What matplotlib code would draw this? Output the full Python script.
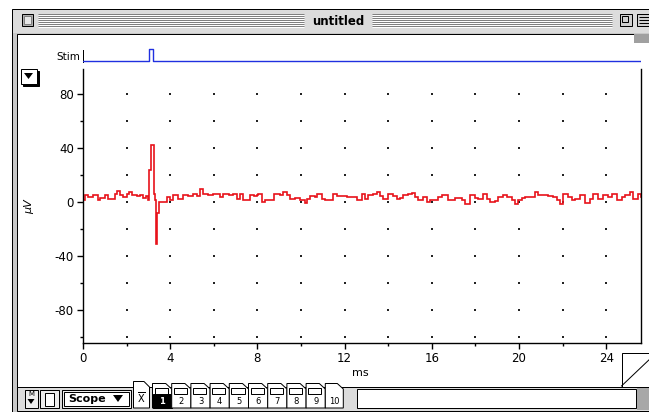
import matplotlib
matplotlib.use("Agg")
import matplotlib.pyplot as plt
from matplotlib.patches import Rectangle, Polygon
import numpy as np

trace_t = [0.00, 0.10, 0.25, 0.45, 0.68, 0.78, 1.00, 1.15, 1.45, 1.54, 1.70, 1.85,
           2.00, 2.12, 2.23, 2.46, 2.61, 2.76, 2.87, 3.00, 3.04, 3.10, 3.13, 3.21,
           3.25, 3.30, 3.33, 3.38, 3.40, 3.48, 3.68, 3.84, 4.00, 4.15, 4.37, 4.60,
           4.83, 5.06, 5.25, 5.37, 5.52, 5.75, 5.98, 6.29, 6.44, 6.70, 6.90, 7.05,
           7.20, 7.36, 7.51, 7.66, 7.85, 7.97, 8.05, 8.20, 8.35, 8.58, 8.74, 8.89,
           9.05, 9.19, 9.35, 9.50, 9.73, 9.96, 10.19, 10.26, 10.42, 10.65, 10.72,
           10.95, 11.10, 11.33, 11.49, 11.64, 11.95, 12.10, 12.40, 12.56, 12.79,
           12.94, 13.09, 13.32, 13.48, 13.63, 13.78, 14.01, 14.24, 14.39, 14.55,
           14.70, 14.93, 15.08, 15.23, 15.39, 15.62, 15.77, 15.92, 16.00, 16.30,
           16.45, 16.76, 17.07, 17.37, 17.52, 17.75, 17.98, 18.14, 18.37, 18.52,
           18.67, 18.90, 19.05, 19.28, 19.44, 19.67, 19.82, 19.97, 20.12, 20.28,
           20.58, 20.74, 20.89, 21.12, 21.35, 21.58, 21.73, 21.88, 22.04, 22.26,
           22.42, 22.57, 22.80, 23.03, 23.26, 23.41, 23.64, 23.87, 24.10, 24.25,
           24.48, 24.71, 24.86, 25.09, 25.25, 25.48, 25.60]
trace_v = [1.8, 5.0, 3.7, 5.0, 1.2, 3.2, 5.0, 2.5, 5.7, 8.0, 5.0, 3.7,
           5.7, 7.4, 5.0, 4.2, 5.0, 3.2, 4.2, 1.2, 23.5, 23.5, 42.0, 42.0,
           6.0, 1.2, -31.0, -31.0, -8.5, 0.0, 0.0, 3.7, 1.8, 5.0, 2.5, 5.0,
           4.2, 5.7, 4.2, 9.9, 6.2, 5.0, 5.7, 3.7, 5.7, 5.0, 5.7, 2.5,
           5.7, 1.8, 1.8, 5.0, 4.2, 5.0, 6.2, 0.0, 1.2, 1.2, 6.2, 5.7,
           5.0, 7.4, 5.0, 2.5, 3.2, 1.2, -0.7, 2.5, 4.2, 3.7, 6.2,
           2.5, 1.8, 1.2, 5.7, 4.2, 4.2, 3.7, 3.7, 1.8, 5.7,
           2.5, 5.0, 6.2, 7.4, 4.2, 2.5, 5.7, 4.2, 2.5, 3.2,
           5.0, 6.2, 6.6, 3.7, 1.8, 3.7, 0.0, 1.8, 1.2, 3.7,
           5.0, 1.8, 3.2, 1.2, -1.2, 5.0, 3.2, 2.5, 6.2, 2.5,
           0.0, 0.7, 3.7, 5.0, 3.7, 1.8, -1.7, 1.2, 3.2, 3.7,
           3.7, 7.4, 5.0, 5.0, 4.2, 3.7, 1.2, -1.2, 6.2, 3.7,
           1.2, 2.5, 5.0, -0.7, 2.5, 5.7, 2.5, 5.0, 3.7, 6.2,
           1.8, 3.7, 5.0, 7.4, 2.5, 6.2, 4.0]

# stimulus channel (ms, on/off)
stim_t = [0.0, 3.04, 3.04, 3.21, 3.21, 25.6]
stim_v = [0, 0, 1, 1, 0, 0]

x_ticks = [0, 4, 8, 12, 16, 20, 24]
y_ticks = [-80, -40, 0, 40, 80]
tab_labels = ['1', '2', '3', '4', '5', '6', '7', '8', '9', '10']

W, H = 649, 412
fig = plt.figure(figsize=(W / 100, H / 100), dpi=100)

# window chrome drawn in pixel coordinates
bg = fig.add_axes([0, 0, 1, 1])
bg.set_xlim(0, W)
bg.set_ylim(H, 0)
bg.axis('off')
px = 0.72


def box(x0, y0, x1, y1, fc, ec='black', lw=1.0):
    bg.add_patch(Rectangle((x0, y0), x1 - x0, y1 - y0, facecolor=fc,
                           edgecolor=ec, linewidth=lw * px))


def hline(x0, x1, y, c='black', lw=1.0):
    bg.plot([x0, x1], [y, y], color=c, lw=lw * px, solid_capstyle='butt')


box(11.5, 8.5, 660, 420, '#c8c8c8')
box(12.5, 9.5, 660, 33, '#dcdcdc', ec='none')
# title stripes
for y in range(14, 28, 2):
    hline(38, 304, y, '#808080')
    hline(38, 304, y + 1, 'white')
    hline(372, 612, y, '#808080')
    hline(372, 612, y + 1, 'white')
box(21.5, 13.5, 32.5, 25.5, '#b0b0b0')
box(23.5, 15.5, 30.5, 23.5, '#e8e8e8', ec='#808080')
bg.text(338, 21, 'untitled', ha='center', va='center', fontsize=8.5,
        fontweight='bold', color='black')
box(619.5, 13.5, 631.5, 25.5, '#d0d0d0')
box(621.5, 15.5, 627.5, 21.5, 'none')
box(636.5, 13.5, 652, 25.5, '#d0d0d0')
for y in (17, 20, 23):
    hline(639, 652, y, 'black')

# content area
box(16.5, 33.5, 660, 386.5, 'white')
box(634, 34, 649, 43, '#a0a0a0', ec='none')
# dropdown triangle button
box(22.5, 70.5, 38.5, 85.5, 'black', ec='black')
box(20.5, 68.5, 36.5, 83.5, 'white')
bg.add_patch(Polygon([[24, 73], [33, 73], [28.5, 79]], closed=True,
                     facecolor='black', edgecolor='none'))
# folded corner at lower right
box(621.5, 352.5, 660, 386.5, 'white')
bg.plot([621.5, 652], [386, 357], color='black', lw=px)

# bottom bar
box(16.5, 386.5, 660, 410.5, '#dcdcdc')
box(24.5, 389.5, 37.5, 407.5, '#eeeeee')
bg.text(31, 394, 'M', ha='center', va='center', fontsize=5, color='black')
bg.add_patch(Polygon([[27.5, 399], [34.5, 399], [31, 404]], closed=True,
                     facecolor='black', edgecolor='none'))
box(39.5, 389.5, 58.5, 407.5, '#eeeeee')
box(44.5, 392.5, 53.5, 405.5, 'white')
box(61.5, 389.5, 130.5, 407.5, '#eeeeee')
box(63.5, 391.5, 128.5, 405.5, 'white')
bg.text(68, 398.5, 'Scope', ha='left', va='center', fontsize=8,
        fontweight='bold', color='black')
bg.add_patch(Polygon([[113, 395], [123, 395], [118, 402]], closed=True,
                     facecolor='black', edgecolor='none'))
# mean tab
bg.add_patch(Polygon([[133.5, 408], [133.5, 381.5], [144, 381.5], [149.5, 387],
                      [149.5, 408]], closed=True, facecolor='white',
                     edgecolor='black', lw=px))
bg.text(141, 398, r'$\overline{\mathrm{X}}$', ha='center', va='center',
        fontsize=7, color='black')
# sweep tabs
tab_w = 19.2
for i, lab in enumerate(tab_labels):
    x0 = 152.5 + i * tab_w
    w = tab_w if i < 9 else 18
    bg.add_patch(Polygon([[x0, 408], [x0, 383.5], [x0 + w - 6, 383.5],
                          [x0 + w, 389], [x0 + w, 408]], closed=True,
                         facecolor='white', edgecolor='black', lw=px))
    if i < 9:
        box(x0 + 2, 387.5, x0 + w - 4, 393.5, 'white')
    if i == 0:
        box(x0, 393.5, x0 + w, 408, 'black')
    bg.text(x0 + w / 2, 401.5, lab, ha='center', va='center', fontsize=6,
            fontweight='bold' if i == 0 else 'normal',
            color='white' if i == 0 else 'black')
box(356.5, 388.5, 635.5, 407.5, 'white')
box(637, 388, 649, 410, '#a8a8a8', ec='none')

# ---- data axes ----
x0f, x1f = 83 / W, 641 / W
ax = fig.add_axes([x0f, (H - 343) / H, x1f - x0f, (343 - 69) / H])
ax.set_facecolor('none')
ax.set_xlim(0, 25.6)
ax.set_ylim(-104.5, 98.5)
ax.plot(trace_t, trace_v, color='#e8121a', lw=1.2, drawstyle='steps-post',
        solid_joinstyle='miter')

# dotted grid
gx = np.arange(2, 25, 2)
gy = np.arange(-100, 81, 20)
GX, GY = np.meshgrid(gx, gy)
ax.scatter(GX.ravel(), GY.ravel(), s=0.55, color='#222222', marker='s',
           linewidths=0)

ax.spines['top'].set_visible(False)
for s in ('left', 'bottom', 'right'):
    ax.spines[s].set_linewidth(1.0)
ax.set_xticks(x_ticks)
ax.set_xticks(np.arange(2, 25, 4), minor=True)
ax.set_yticks(y_ticks)
ax.set_yticks([-100, -60, -20, 20, 60], minor=True)
ax.tick_params(which='major', length=4, width=1, pad=2.5, labelsize=8.5,
               direction='out', colors='black')
ax.tick_params(which='minor', length=2.5, width=1, direction='out')
ax.tick_params(axis='y', which='both', right=False)
ax.set_yticklabels(['-80', '-40', '0', '40', '80'])

bg.text(360, 373, 'ms', ha='center', va='center', fontsize=8, color='black')
bg.text(29, 207, 'µV', ha='center', va='center', fontsize=8, rotation=90,
        style='italic', color='black')

# stimulus channel strip
sx = fig.add_axes([x0f, (H - 64) / H, x1f - x0f, 18 / H])
sx.set_facecolor('none')
sx.set_xlim(0, 25.6)
sx.set_ylim(-0.25, 1.25)
sx.plot(stim_t, stim_v, color='#2030e0', lw=1.0)
sx.axis('off')
bg.plot([83, 83], [50, 62], color='black', lw=px)
bg.text(80, 57, 'Stim', ha='right', va='center', fontsize=7.5, color='black')

fig.savefig('out.png', dpi=100)
